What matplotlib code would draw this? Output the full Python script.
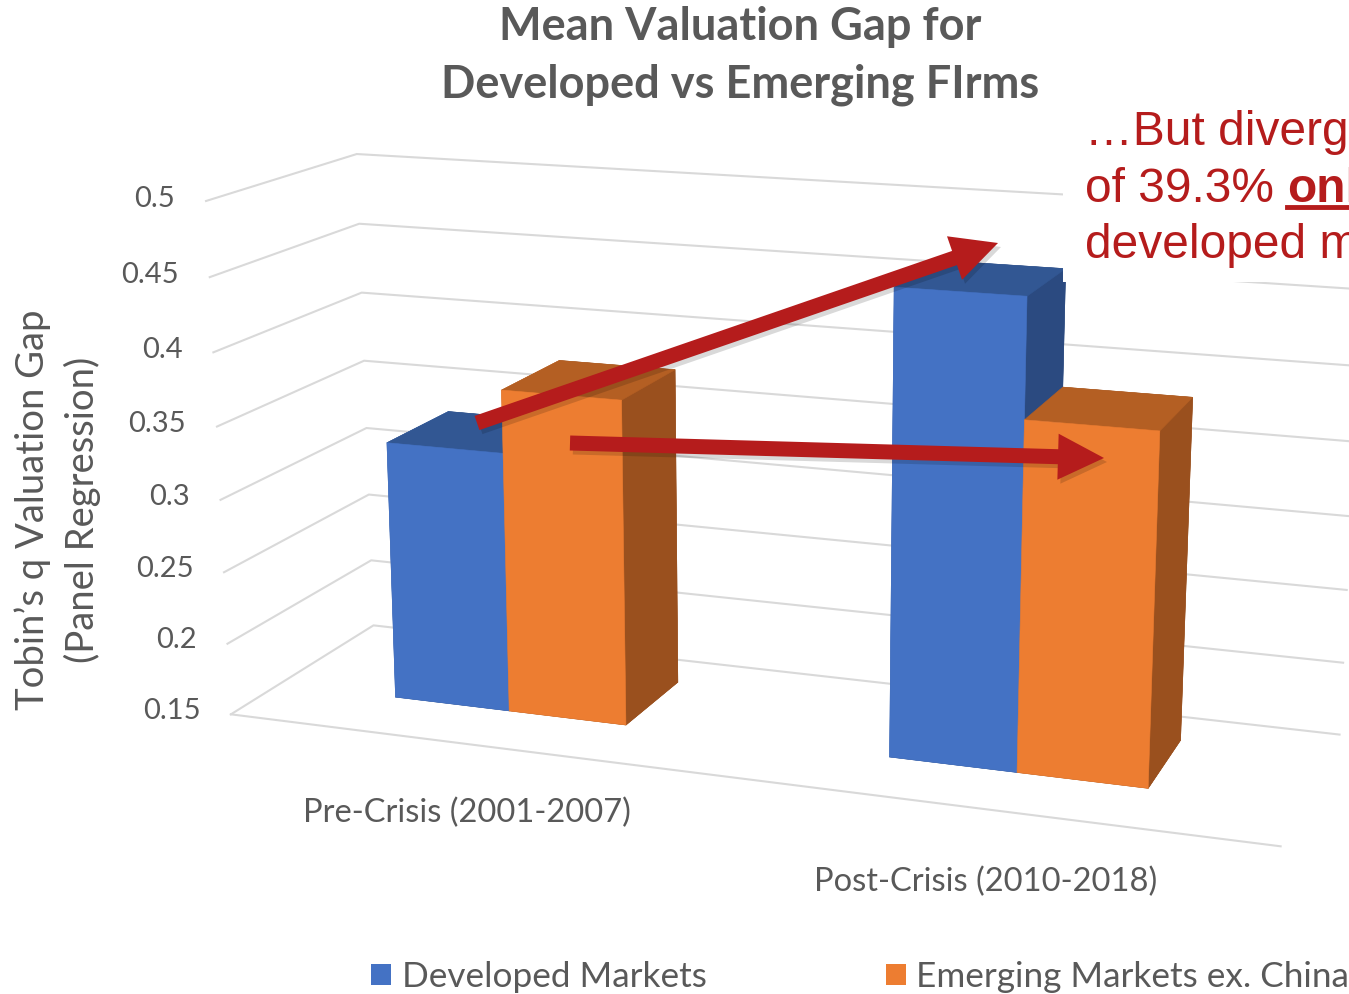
import numpy as np
import matplotlib.pyplot as plt
from matplotlib.patches import FancyArrow, Rectangle, Patch
from matplotlib.transforms import IdentityTransform
from matplotlib.lines import Line2D

plt.rcParams['font.family'] = ['Lato', 'DejaVu Sans']

# data
periods = ["Pre-Crisis (2001-2007)", "Post-Crisis (2010-2018)"]
series = ["Developed Markets", "Emerging Markets ex. China"]
developed = [0.33, 0.46]
emerging = [0.373, 0.382]
z_ticks = [0.15, 0.2, 0.25, 0.3, 0.35, 0.4, 0.45, 0.5]
z_tick_labels = ["0.15", "0.2", "0.25", "0.3", "0.35", "0.4", "0.45", "0.5"]

GRAY = '#595959'
GRID = '#D9D9D9'
RED = '#B51C1C'
# face order of bar3d: bottom, top, front, back, left, right
blue_faces = ['#2B4A80', '#325793', '#4472C4', '#2B4A80', '#3A62A8', '#2B4A80']
orange_faces = ['#9A501E', '#B45F23', '#ED7D31', '#9A501E', '#C86A28', '#9A501E']

W, H = 1349, 994
fig = plt.figure(figsize=(W / 100, H / 100), dpi=100)

# 3d chart area (square, centred on the box)
S = 1250
cx, cy = 763, 488
ax = fig.add_axes([(cx - S / 2) / W, (H - cy - S / 2) / H, S / W, S / H],
                  projection='3d', proj_type='persp', focal_length=0.45,
                  computed_zorder=False)
ax.view_init(elev=14.7, azim=-70.4)
ax.set_box_aspect((1.958, 0.579, 0.963), zoom=0.9746)
ax.set_xlim(0, 2)
ax.set_ylim(0, 1)
ax.set_zlim(0.15, 0.5)
ax.set_axis_off()

# gridlines on the side wall and back wall, plus the floor's front edge
x0, x1 = ax.get_xlim()
y0w, y1w = ax.get_ylim()
for v in z_ticks:
    ax.plot([x0, x0, x1], [y0w, y1w, y1w], [v, v, v], color=GRID, linewidth=1.5, zorder=1)
ax.plot([x0, x1], [y0w, y0w], [z_ticks[0], z_ticks[0]], color=GRID, linewidth=1.5, zorder=1)

bar_w = 0.24
y0, depth = 0.33, 0.45
centers = [0.489, 1.488]
xs, dzs, cols = [], [], []
for i, c in enumerate(centers):
    for j, (vals, faces) in enumerate([(developed, blue_faces), (emerging, orange_faces)]):
        xs.append(c - bar_w + j * bar_w)
        dzs.append(vals[i] - z_ticks[0])
        cols += faces
n = len(xs)
ax.bar3d(xs, [y0] * n, [z_ticks[0]] * n, bar_w, depth, dzs,
         color=cols, edgecolor=cols, linewidth=0.4, shade=False, zorder=3)

# category labels below the floor front edge
for c, lab in zip(centers, periods):
    ax.text(c, 0, 0.102, lab, ha='center', va='center', fontsize=23.5, color=GRAY)
# value labels on the front-left edge
for v, lab in zip(z_ticks, z_tick_labels):
    ax.text(-0.065, 0, v, lab, ha='right', va='center', fontsize=21, color=GRAY)

# titles
fig.text(740 / W, 1 - 27 / H, "Mean Valuation Gap for", ha='center', va='center',
         fontsize=32.5, fontweight='bold', color=GRAY)
fig.text(740 / W, 1 - 85 / H, "Developed vs Emerging FIrms", ha='center', va='center',
         fontsize=32.5, fontweight='bold', color=GRAY)
fig.text(33 / W, 1 - 510 / H, "Tobin\u2019s q Valuation Gap", rotation=90,
         ha='center', va='center', fontsize=27.5, color=GRAY)
fig.text(82 / W, 1 - 510 / H, "(Panel Regression)", rotation=90,
         ha='center', va='center', fontsize=27.5, color=GRAY)

# legend
handles = [Patch(facecolor=blue_faces[2]), Patch(facecolor=orange_faces[2])]
fig.legend(handles, series, loc='center', bbox_to_anchor=(860 / W, 1 - 977 / H),
           ncol=2, frameon=False, fontsize=25.3, labelcolor=GRAY,
           handlelength=0.57, handleheight=0.57, handletextpad=0.3, columnspacing=5.1)

# call-out box
fig.add_artist(Rectangle((1063, H - 282), 300, 182, transform=IdentityTransform(),
                         facecolor='white', edgecolor='none', zorder=5))
tf = dict(fontsize=34.5, color=RED, family=['Liberation Sans', 'DejaVu Sans'], zorder=7, va='baseline')
fig.text(1085 / W, 1 - 145 / H, "\u2026But divergence", **tf)
t1 = fig.text(1085 / W, 1 - 202 / H, "of 39.3% ", **tf)
fig.text(1085 / W, 1 - 258 / H, "developed markets", **tf)
fig.canvas.draw()
bb = t1.get_window_extent()
t2 = fig.text(bb.x1 / W, 1 - 202 / H, "only", fontweight='bold', **tf)
bb2 = t2.get_window_extent()
fig.add_artist(Line2D([bb2.x0, bb2.x1], [H - 207, H - 207], transform=IdentityTransform(),
                      color=RED, linewidth=3.5, zorder=7))
fig.text(bb2.x1 / W, 1 - 202 / H, " in", **tf)

# red arrows (image pixel coords, converted to display)
arrows = [((477, 423), (998, 243)), ((570, 443), (1104, 458))]
for (ax0, ay0), (ax1, ay1) in arrows:
    for off, col, al in [((3, -4), 'black', 0.15), ((0, 0), RED, 1.0)]:
        fig.add_artist(FancyArrow(ax0 + off[0], H - ay0 + off[1], ax1 - ax0, -(ay1 - ay0),
                                  width=15, head_width=46, head_length=46,
                                  length_includes_head=True, transform=IdentityTransform(),
                                  facecolor=col, edgecolor='none', alpha=al, zorder=6))

fig.savefig('out.png', dpi=100)
